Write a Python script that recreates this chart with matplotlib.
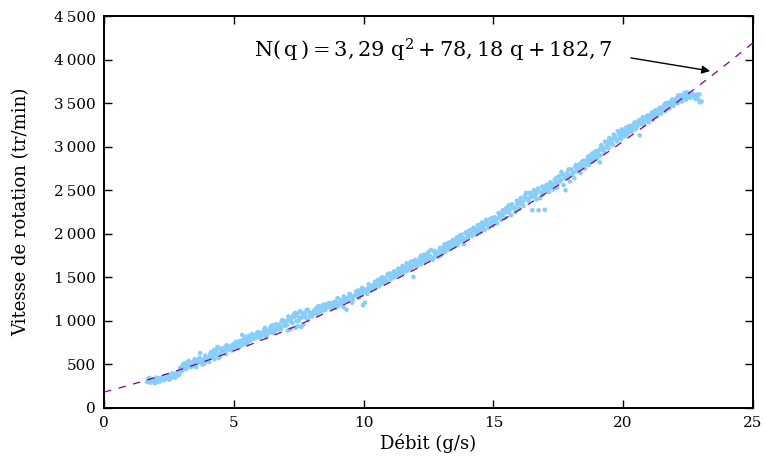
import numpy as np
import matplotlib
matplotlib.use("Agg")
import matplotlib.pyplot as plt
from matplotlib.ticker import FuncFormatter

# Measured flow rate (g/s) and rotation speed (tr/min), first run
debit_1 = [
    1.66, 1.72, 1.78, 1.85, 1.92, 1.98, 2.05, 2.10, 2.18, 2.25, 2.30, 2.36, 2.42, 2.48, 2.55, 2.60, 2.66, 2.72, 2.78, 2.84, 2.90, 2.95,
    3.00, 3.05, 3.10, 3.16, 3.22, 3.28, 3.34, 3.40, 3.46, 3.52, 3.58, 3.64, 3.70, 3.76, 3.82, 3.88, 3.95,
    4.02, 4.08, 4.12, 4.18, 4.24, 4.30, 4.36, 4.42, 4.48, 4.55, 4.62, 4.68, 4.75, 4.82, 4.90, 4.96,
    5.05, 5.12, 5.18, 5.25, 5.32, 5.38, 5.45, 5.52, 5.58, 5.65, 5.72, 5.80, 5.88, 5.95,
    6.02, 6.08, 6.15, 6.22, 6.30, 6.38, 6.45, 6.52, 6.60, 6.68, 6.75, 6.82, 6.90, 6.96,
    7.03, 7.08, 7.14, 7.20, 7.26, 7.32, 7.38, 7.44, 7.50, 7.56, 7.62, 7.68, 7.74, 7.80, 7.86, 7.93,
    8.00, 8.08, 8.15, 8.22, 8.30, 8.38, 8.45, 8.52, 8.60, 8.70, 8.78, 8.86, 8.94,
    9.02, 9.10, 9.18, 9.26, 9.34, 9.42, 9.50, 9.58, 9.66, 9.74, 9.82, 9.90, 9.98, 10.05,
    10.10, 10.18, 10.26, 10.34, 10.42, 10.50, 10.58, 10.66, 10.74, 10.82, 10.90, 10.98,
    11.05, 11.12, 11.20, 11.28, 11.36, 11.44, 11.52, 11.60, 11.68, 11.76, 11.84, 11.92, 11.98,
    12.05, 12.12, 12.20, 12.28, 12.36, 12.44, 12.52, 12.60, 12.68, 12.76, 12.84, 12.92, 13.00,
    13.08, 13.15, 13.22, 13.30, 13.38, 13.46, 13.54, 13.62, 13.70, 13.78, 13.86, 13.94,
    14.02, 14.10, 14.18, 14.26, 14.34, 14.42, 14.50, 14.58, 14.66, 14.74, 14.82, 14.90, 14.98,
    15.06, 15.14, 15.22, 15.30, 15.38, 15.46, 15.54, 15.60, 15.68, 15.76, 15.84, 15.92,
    16.00, 16.08, 16.16, 16.26, 16.34, 16.42, 16.50, 16.58, 16.66, 16.74, 16.82, 16.90, 16.98, 17.06,
    17.14, 17.22, 17.30, 17.38, 17.46, 17.55, 17.62, 17.70, 17.78, 17.86, 17.95,
    18.04, 18.12, 18.20, 18.28, 18.36, 18.44, 18.52, 18.60, 18.68, 18.76, 18.84, 18.92, 18.98,
    19.06, 19.12, 19.20, 19.28, 19.36, 19.44, 19.52, 19.60, 19.68, 19.76, 19.84, 19.92, 19.10,
    20.00, 20.08, 20.16, 20.24, 20.32, 20.40, 20.48, 20.56, 20.64, 20.72, 20.80, 20.90, 20.98,
    21.06, 21.14, 21.22, 21.30, 21.38, 21.46, 21.54, 21.62, 21.70, 21.78, 21.86, 21.94,
    22.02, 22.10, 22.18, 22.26, 22.34, 22.42, 22.50, 22.58, 22.66, 22.74, 22.82, 22.90, 22.96, 22.46,
]
vitesse_1 = [
    300, 318, 290, 305, 330, 312, 296, 340, 325, 350, 318, 362, 335, 372, 345, 380, 352, 395, 368, 405, 382, 420,
    470, 500, 455, 512, 488, 525, 470, 505, 540, 495, 528, 552, 630, 510, 545, 570, 535,
    560, 600, 640, 585, 665, 610, 685, 575, 625, 650, 690, 660, 705, 670, 715, 690,
    720, 745, 705, 770, 840, 735, 790, 760, 805, 780, 830, 810, 855, 820,
    800, 860, 835, 880, 850, 900, 870, 920, 895, 935, 960, 905, 990, 945,
    1000, 890, 1030, 905, 975, 1045, 920, 1060, 1000, 1110, 1040, 960, 1080, 1120, 1010, 1060,
    1050, 1095, 1130, 1080, 1150, 1110, 1160, 1125, 1175, 1205, 1140, 1185, 1150,
    1170, 1215, 1190, 1250, 1130, 1270, 1230, 1245, 1290, 1320, 1265, 1340, 1180, 1210,
    1330, 1370, 1345, 1400, 1380, 1440, 1395, 1460, 1430, 1490, 1455, 1520,
    1480, 1530, 1500, 1555, 1520, 1580, 1545, 1610, 1575, 1640, 1600, 1505, 1660,
    1625, 1690, 1650, 1715, 1680, 1740, 1700, 1815, 1720, 1765, 1735, 1800, 1760,
    1845, 1790, 1870, 1820, 1900, 1850, 1930, 1870, 1905, 1950, 1880, 1935,
    1960, 2000, 1975, 2035, 1990, 2060, 2020, 2085, 2045, 2110, 2070, 2130, 2095,
    2150, 2120, 2190, 2160, 2230, 2180, 2270, 2330, 2215, 2300, 2250, 2340,
    2290, 2365, 2320, 2470, 2380, 2420, 2270, 2440, 2395, 2270, 2480, 2450, 2275, 2510,
    2480, 2540, 2510, 2575, 2530, 2600, 2710, 2560, 2500, 2640, 2600,
    2680, 2640, 2720, 2760, 2700, 2800, 2750, 2840, 2790, 2880, 2830, 2910, 2860,
    2960, 2900, 3000, 2940, 3040, 2985, 3080, 3020, 3120, 3060, 3150, 3090, 2820,
    3130, 3180, 3140, 3210, 3170, 3245, 3200, 3270, 3130, 3300, 3250, 3330, 3280,
    3360, 3310, 3390, 3350, 3420, 3380, 3450, 3410, 3480, 3440, 3510, 3470,
    3530, 3500, 3555, 3520, 3580, 3540, 3600, 3560, 3610, 3570, 3590, 3540, 3510, 3625,
]

# Second run over the same flow range
debit_2 = [
    1.70, 1.80, 1.95, 2.02, 2.15, 2.28, 2.40, 2.52, 2.64, 2.75, 2.88, 2.98,
    3.02, 3.12, 3.20, 3.30, 3.42, 3.50, 3.62, 3.72, 3.85, 3.92,
    4.05, 4.15, 4.22, 4.32, 4.40, 4.50, 4.58, 4.70, 4.80, 4.92,
    5.00, 5.10, 5.20, 5.30, 5.42, 5.50, 5.62, 5.75, 5.85, 5.98,
    6.05, 6.18, 6.26, 6.35, 6.48, 6.56, 6.65, 6.78, 6.88, 6.98,
    7.05, 7.16, 7.24, 7.36, 7.46, 7.54, 7.65, 7.76, 7.88, 7.98,
    8.05, 8.18, 8.26, 8.35, 8.48, 8.56, 8.66, 8.74, 8.84, 8.96,
    9.05, 9.14, 9.22, 9.30, 9.38, 9.48, 9.56, 9.70, 9.80, 9.92,
    10.02, 10.14, 10.22, 10.30, 10.40, 10.48, 10.56, 10.64, 10.72, 10.86, 10.94,
    11.02, 11.10, 11.18, 11.26, 11.34, 11.42, 11.50, 11.58, 11.66, 11.74, 11.82, 11.90,
    12.00, 12.10, 12.18, 12.26, 12.34, 12.42, 12.50, 12.58, 12.66, 12.74, 12.82, 12.90, 12.98,
    13.05, 13.12, 13.20, 13.28, 13.36, 13.44, 13.52, 13.60, 13.68, 13.76, 13.84, 13.92,
    14.00, 14.08, 14.16, 14.24, 14.32, 14.40, 14.48, 14.56, 14.64, 14.72, 14.80, 14.88, 14.96,
    15.04, 15.12, 15.20, 15.28, 15.36, 15.44, 15.52, 15.62, 15.72, 15.80, 15.90, 15.98,
    16.05, 16.14, 16.22, 16.30, 16.40, 16.48, 16.56, 16.64, 16.72, 16.80, 16.88, 16.96,
    17.04, 17.12, 17.20, 17.28, 17.36, 17.44, 17.52, 17.60, 17.68, 17.76, 17.84, 17.92,
    18.00, 18.08, 18.16, 18.24, 18.32, 18.40, 18.48, 18.56, 18.64, 18.72, 18.80, 18.88, 18.96,
    19.04, 19.14, 19.22, 19.30, 19.38, 19.46, 19.56, 19.64, 19.72, 19.80, 19.88, 19.96,
    20.04, 20.12, 20.20, 20.28, 20.36, 20.44, 20.52, 20.60, 20.68, 20.76, 20.86, 20.94,
    21.02, 21.10, 21.18, 21.26, 21.34, 21.42, 21.50, 21.58, 21.66, 21.74, 21.82, 21.90, 21.98,
    22.06, 22.14, 22.22, 22.30, 22.38, 22.46, 22.54, 22.62, 22.70, 22.78, 22.86, 23.02,
]
vitesse_2 = [
    335, 322, 285, 348, 305, 330, 360, 325, 370, 350, 400, 440,
    430, 485, 520, 500, 480, 560, 520, 545, 510, 580,
    530, 575, 620, 650, 600, 680, 640, 620, 700, 660,
    700, 690, 760, 720, 800, 730, 830, 795, 840, 870,
    830, 900, 810, 870, 950, 880, 910, 930, 1010, 980,
    950, 1000, 1040, 1090, 940, 1030, 1090, 1040, 1110, 1090,
    1070, 1100, 1170, 1130, 1190, 1150, 1160, 1180, 1210, 1195,
    1200, 1240, 1160, 1230, 1260, 1290, 1210, 1300, 1350, 1300,
    1330, 1310, 1400, 1370, 1420, 1395, 1470, 1420, 1500, 1470, 1540,
    1545, 1500, 1570, 1530, 1600, 1550, 1630, 1580, 1660, 1610, 1680, 1630,
    1700, 1660, 1730, 1690, 1760, 1710, 1790, 1740, 1700, 1800, 1780, 1740, 1830,
    1800, 1880, 1840, 1900, 1850, 1930, 1880, 1960, 1930, 1990, 1950, 2010,
    1990, 2040, 2010, 2070, 2040, 2100, 2060, 2130, 2100, 2160, 2120, 2170, 2140,
    2190, 2170, 2240, 2200, 2270, 2240, 2300, 2270, 2340, 2300, 2380, 2340,
    2410, 2370, 2440, 2400, 2470, 2430, 2500, 2460, 2520, 2410, 2540, 2500,
    2560, 2530, 2590, 2560, 2620, 2590, 2660, 2620, 2680, 2640, 2700, 2670,
    2740, 2700, 2770, 2720, 2800, 2760, 2840, 2800, 2880, 2840, 2920, 2880, 2950,
    2920, 3000, 2960, 3060, 3000, 3100, 3060, 3140, 3090, 3180, 3120, 3200,
    3150, 3220, 3170, 3240, 3200, 3280, 3240, 3300, 3260, 3340, 3290, 3360,
    3320, 3390, 3350, 3420, 3380, 3450, 3410, 3480, 3440, 3510, 3470, 3540, 3500,
    3560, 3520, 3590, 3550, 3610, 3570, 3620, 3580, 3600, 3550, 3600, 3520,
]

# Third run over the same flow range
debit_3 = [
    1.75, 1.90, 2.08, 2.22, 2.35, 2.50, 2.62, 2.80, 2.93,
    3.08, 3.18, 3.26, 3.38, 3.55, 3.68, 3.80, 3.90,
    4.10, 4.26, 4.38, 4.46, 4.60, 4.72, 4.86, 4.98,
    5.08, 5.22, 5.35, 5.48, 5.60, 5.70, 5.82, 5.92,
    6.10, 6.20, 6.32, 6.42, 6.54, 6.62, 6.72, 6.85, 6.94,
    7.10, 7.22, 7.30, 7.42, 7.52, 7.60, 7.72, 7.84, 7.95,
    8.10, 8.20, 8.32, 8.42, 8.54, 8.64, 8.76, 8.90,
    9.00, 9.12, 9.24, 9.36, 9.46, 9.60, 9.72, 9.86, 9.95,
    10.08, 10.20, 10.32, 10.44, 10.54, 10.68, 10.80, 10.92,
    11.08, 11.20, 11.32, 11.46, 11.56, 11.70, 11.80, 11.94,
    12.08, 12.22, 12.32, 12.46, 12.56, 12.70, 12.80, 12.95,
    13.10, 13.24, 13.34, 13.48, 13.58, 13.72, 13.82, 13.96,
    14.12, 14.22, 14.36, 14.46, 14.60, 14.70, 14.84, 14.94,
    15.10, 15.24, 15.34, 15.48, 15.58, 15.70, 15.86, 15.96,
    16.10, 16.20, 16.36, 16.46, 16.60, 16.70, 16.86, 16.94,
    17.10, 17.18, 17.32, 17.42, 17.58, 17.66, 17.82, 17.90,
    18.06, 18.18, 18.30, 18.42, 18.58, 18.66, 18.82, 18.90,
    19.02, 19.16, 19.26, 19.42, 19.50, 19.62, 19.78, 19.90,
    20.06, 20.18, 20.30, 20.42, 20.54, 20.66, 20.82, 20.92,
    21.04, 21.16, 21.28, 21.40, 21.52, 21.64, 21.76, 21.88,
    22.00, 22.12, 22.24, 22.36, 22.48, 22.60, 22.72, 22.84, 22.94,
]
vitesse_3 = [
    345, 320, 300, 340, 365, 355, 395, 380, 460,
    510, 450, 540, 515, 470, 575, 500, 600,
    620, 560, 700, 590, 670, 720, 680, 730,
    760, 700, 780, 820, 770, 850, 800, 870,
    860, 920, 880, 930, 860, 960, 900, 1000, 950,
    1050, 990, 1070, 1000, 1100, 930, 1050, 1130, 1080,
    1120, 1150, 1100, 1180, 1140, 1200, 1170, 1220,
    1260, 1200, 1280, 1230, 1310, 1280, 1340, 1300, 1380,
    1360, 1420, 1380, 1450, 1410, 1490, 1450, 1530,
    1510, 1560, 1540, 1600, 1570, 1650, 1610, 1690,
    1660, 1750, 1700, 1770, 1730, 1800, 1770, 1840,
    1820, 1890, 1860, 1920, 1890, 1980, 1930, 2020,
    2000, 2060, 2030, 2100, 2070, 2140, 2110, 2180,
    2160, 2230, 2210, 2290, 2250, 2310, 2290, 2370,
    2340, 2420, 2390, 2460, 2420, 2500, 2470, 2540,
    2520, 2580, 2560, 2640, 2610, 2680, 2650, 2740,
    2710, 2790, 2760, 2830, 2800, 2890, 2860, 2940,
    2880, 3020, 2970, 3060, 3040, 3100, 3080, 3170,
    3120, 3230, 3190, 3260, 3230, 3310, 3290, 3350,
    3330, 3400, 3370, 3440, 3430, 3500, 3460, 3540,
    3520, 3590, 3560, 3620, 3580, 3610, 3590, 3570, 3600,
]

# Fitted polynomial N(q) = a q^2 + b q + c
coef_a, coef_b, coef_c = 3.29, 78.18, 182.7

x_ticks = [0, 5, 10, 15, 20, 25]
y_ticks = [0, 500, 1000, 1500, 2000, 2500, 3000, 3500, 4000, 4500]

plt.rcParams["font.family"] = ["DejaVu Serif"]
plt.rcParams["mathtext.fontset"] = "dejavuserif"

fig = plt.figure(figsize=(7.66, 4.61), dpi=100)
ax = fig.add_axes([0.1358, 0.115, 0.8472, 0.85])

ax.scatter(debit_1 + debit_2 + debit_3, vitesse_1 + vitesse_2 + vitesse_3,
           s=11, color="#87CEFA", edgecolors="none", zorder=2)

q = np.linspace(0, 25, 300)
ax.plot(q, coef_a * q**2 + coef_b * q + coef_c, color="#8B008B", lw=0.9,
        dashes=(6, 6), zorder=3)

ax.set_xlim(0, 25)
ax.set_ylim(0, 4500)
ax.set_xticks(x_ticks)
ax.set_yticks(y_ticks)


def thousands(v, pos):
    v = int(round(v))
    if v >= 1000:
        return f"{v // 1000}\u2009{v % 1000:03d}"
    return str(v)


ax.yaxis.set_major_formatter(FuncFormatter(thousands))
ax.tick_params(direction="in", length=6, width=1, top=True, right=True,
               labelsize=11, pad=6)
for sp in ax.spines.values():
    sp.set_linewidth(1.4)

ax.set_xlabel("Débit (g/s)", fontsize=13, labelpad=2)
ax.set_ylabel("Vitesse de rotation (tr/min)", fontsize=13, labelpad=17)

ax.text(19.6, 4110,
        r"$\mathrm{N}(\,\mathrm{q}\,) = 3,29\ \mathrm{q}^2 + 78,18\ \mathrm{q} + 182,7$",
        fontsize=15, ha="right", va="center")
ax.annotate("", xy=(23.35, 3870), xytext=(20.3, 4020),
            arrowprops=dict(arrowstyle="-|>", color="black", lw=1,
                            mutation_scale=12, shrinkA=0, shrinkB=0))

fig.savefig("out.png", dpi=100)
